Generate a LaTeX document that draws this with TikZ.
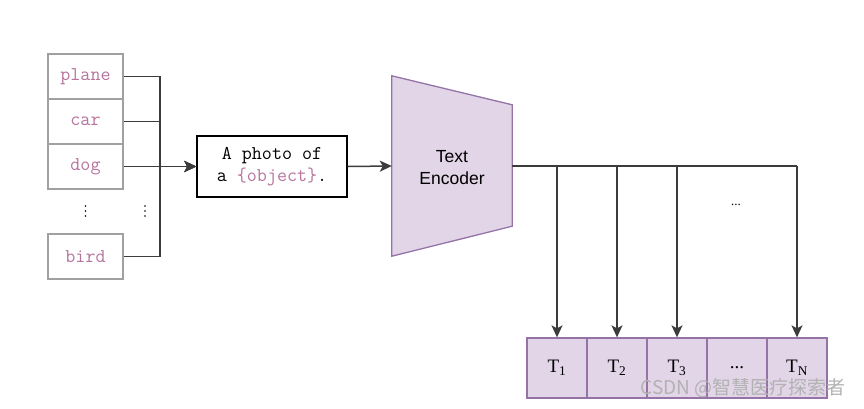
\documentclass[tikz,border=0pt]{standalone}
\usepackage{fontspec}
\setmainfont{Liberation Serif}
\setsansfont{Liberation Sans}
\newfontfamily\cjkfont{Noto Sans CJK SC}
\usetikzlibrary{arrows.meta}
\definecolor{lbl}{HTML}{B5739D}
\definecolor{encfill}{HTML}{E1D5E7}
\definecolor{encdraw}{HTML}{9673A6}
\definecolor{wire}{HTML}{3C3C3C}
\definecolor{boxgray}{HTML}{A0A0A0}
\tikzset{
  x=1pt,y=-1pt,
  classbox/.style={draw=boxgray,line width=1.3pt,minimum width=75pt,minimum height=45pt,inner sep=0pt,
    font=\fontsize{19.5}{22}\ttfamily,text=lbl},
  promptbox/.style={draw=black,line width=1.4pt,minimum width=150pt,minimum height=61pt,inner sep=0pt,
    align=center,font=\fontsize{19.5}{22}\ttfamily},
  tbox/.style={draw=encdraw,fill=encfill,line width=1.3pt,minimum width=60pt,minimum height=60pt,inner sep=0pt,
    font=\fontsize{19}{20}\selectfont},
  wireline/.style={draw=wire,line width=1.5pt},
  arr/.style={wireline,-{Stealth[length=12pt,width=11pt,inset=3pt]}},
  encframe/.style={minimum width=120pt,minimum height=180pt,inner sep=0pt,align=center,
    font=\fontsize{17.5}{22}\sffamily},
  vdot/.style={minimum size=12pt,inner sep=0pt},
}
\begin{document}
\begin{tikzpicture}
\useasboundingbox (0,0) rectangle (864,408);
% class boxes
\node[classbox] (plane) at (85.5,76.5) {plane};
\node[classbox] (car) at (85.5,121.5) {car};
\node[classbox] (dog) at (85.5,166.5) {dog};
\node[classbox] (bird) at (85.5,256.5) {bird};
\node[vdot] (dotsA) at (85.5,211) {};
\node[vdot] (dotsB) at (145,211) {};
\foreach \n in {dotsA,dotsB}{
  \foreach \dy in {-5,0,5}{\fill ([yshift=\dy pt]\n.center) circle (0.9pt);}
}
% prompt box
\node[promptbox] (prompt) at (272,166.5) {A photo of\\a \textcolor{lbl}{\{object\}}.};
% encoder
\node[encframe] (enc) at (452,166) {};
\fill[encfill,draw=encdraw,line width=1.3pt] (enc.north west) -- ([yshift=-29pt]enc.north east)
  -- ([yshift=30pt]enc.south east) -- (enc.south west) -- cycle;
\node[encframe] (enctext) at ([yshift=-2pt]enc.center) {Text\\Encoder};
% merge connectors
\coordinate (mx) at (160,0);
\draw[arr] (plane.east) -| (mx |- prompt.west) -- (prompt.west);
\draw[arr] (car.east) -| (mx |- prompt.west) -- (prompt.west);
\draw[arr] (dog.east) -- (prompt.west);
\draw[arr] (bird.east) -| (mx |- prompt.west) -- (prompt.west);
\draw[arr] (prompt.east) -- (enc.west);
% output tokens
\node[tbox] (t1) at (557,368) {T\textsubscript{1}};
\node[tbox] (t2) at (617,368) {T\textsubscript{2}};
\node[tbox] (t3) at (677,368) {T\textsubscript{3}};
\node[tbox] (t4) at (737,368) {...};
\node[tbox] (t5) at (797,368) {T\textsubscript{N}};
\coordinate (bend) at (t5.north |- enc.east);
\draw[wireline] (enc.east) -- (bend);
\draw[arr] (t1.north |- enc.east) -- (t1.north);
\draw[arr] (t2.north |- enc.east) -- (t2.north);
\draw[arr] (t3.north |- enc.east) -- (t3.north);
\draw[arr] (bend) -- (t5.north);
\node[font=\fontsize{13}{14}\selectfont] (mdots) at (736,205) {...};
% watermark
\node[anchor=east,text=black!30,font=\fontsize{19}{20}\cjkfont] (wm) at (849,388) {CSDN @智慧医疗探索者};
\end{tikzpicture}
\end{document}
